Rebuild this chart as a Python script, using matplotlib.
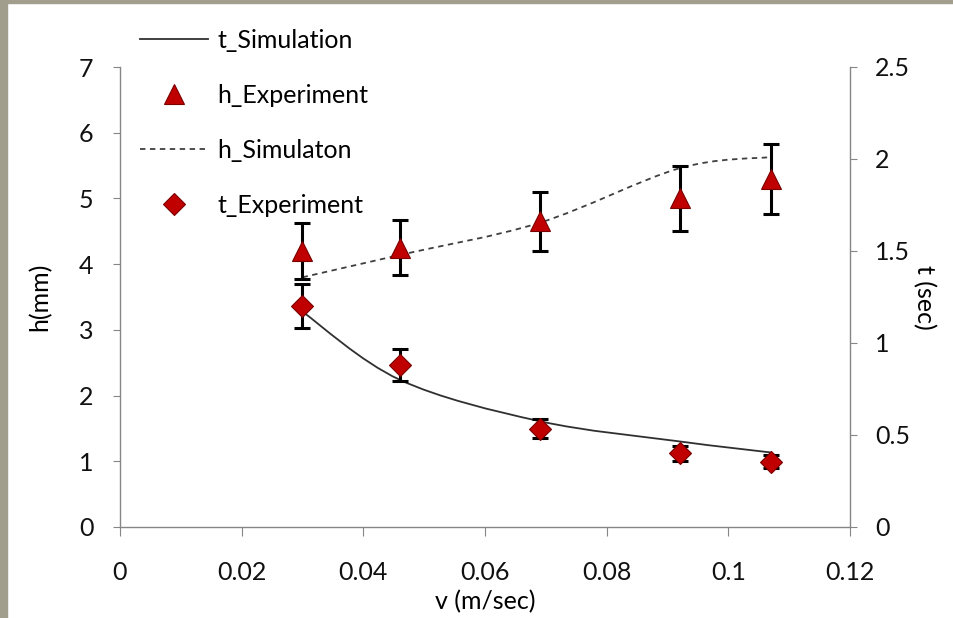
import matplotlib
matplotlib.use('Agg')
import matplotlib.pyplot as plt
from matplotlib.path import Path
from matplotlib.patches import PathPatch, Rectangle
from matplotlib.lines import Line2D
import numpy as np

plt.rcParams['font.family'] = ['Lato', 'DejaVu Sans']

# velocity (m/sec)
v = [0.030, 0.046, 0.069, 0.092, 0.107]

# film height (mm), left axis
h_exp = [4.20, 4.25, 4.65, 5.00, 5.30]
h_err = [0.42, 0.42, 0.45, 0.50, 0.53]
h_sim = [3.80, 4.14, 4.63, 5.46, 5.63]

# time (sec), right axis
t_exp = [1.20, 0.88, 0.535, 0.40, 0.355]
t_err = [0.12, 0.088, 0.053, 0.04, 0.035]
t_sim = [1.17, 0.80, 0.575, 0.465, 0.405]

AX_GRAY = '#868686'
RED = '#C00000'
RED_EDGE = '#7A0000'
FS = 18


def smooth_path(x, y):
    # bezier through every point, control points like a spreadsheet "smoothed line"
    pts = np.column_stack([x, y])
    n = len(pts)
    verts = [pts[0]]
    codes = [Path.MOVETO]
    for i in range(n - 1):
        p0 = pts[max(i - 1, 0)]
        p1 = pts[i]
        p2 = pts[i + 1]
        p3 = pts[min(i + 2, n - 1)]
        c1 = p1 + (p2 - p0) / 6.0
        c2 = p2 - (p3 - p1) / 6.0
        verts += [c1, c2, p2]
        codes += [Path.CURVE4] * 3
    return Path(verts, codes)


fig = plt.figure(figsize=(9.54, 6.18), dpi=100)
ax = fig.add_axes([120 / 954, 1 - 527 / 618, 730 / 954, 460 / 618])
ax2 = ax.twinx()

# h curves on left axis
ax.add_patch(PathPatch(smooth_path(v, h_sim), fill=False, ec='#404040',
                       lw=1.3, ls=(0, (3, 2.5)), zorder=2))
ax.errorbar(v, h_exp, yerr=h_err, fmt='none', ecolor='black', elinewidth=2.2,
            capsize=6, capthick=2.2, zorder=3)
ax.plot(v, h_exp, ls='none', marker='^', ms=15, mfc=RED, mec=RED_EDGE,
        mew=0.8, zorder=4)

# t curves on right axis
ax2.add_patch(PathPatch(smooth_path(v, t_sim), fill=False, ec='#303030',
                        lw=1.3, zorder=2))
ax2.errorbar(v, t_exp, yerr=t_err, fmt='none', ecolor='black', elinewidth=2.2,
             capsize=6, capthick=2.2, zorder=3)
ax2.plot(v, t_exp, ls='none', marker='D', ms=11.5, mfc=RED, mec=RED_EDGE,
         mew=0.8, zorder=4)

ax.set_xlim(0, 0.12)
ax.set_ylim(0, 7)
ax2.set_ylim(0, 2.5)
ax.set_xticks(np.arange(0, 0.121, 0.02))
ax.set_xticklabels(['0', '0.02', '0.04', '0.06', '0.08', '0.1', '0.12'])
ax.set_yticks(range(8))
ax2.set_yticks([0, 0.5, 1, 1.5, 2, 2.5])
ax2.set_yticklabels(['0', '0.5', '1', '1.5', '2', '2.5'])

for a in (ax, ax2):
    for s in a.spines.values():
        s.set_color(AX_GRAY)
        s.set_linewidth(1.0)
    a.spines['top'].set_visible(False)
ax.spines['right'].set_visible(False)
ax2.spines['left'].set_visible(False)
ax2.spines['bottom'].set_visible(False)

ax.tick_params(axis='x', direction='out', length=6.5, color=AX_GRAY,
               labelsize=FS, pad=18, labelcolor='#111111')
ax.tick_params(axis='y', direction='out', length=5, color=AX_GRAY,
               labelsize=FS, pad=14, labelcolor='#111111')
ax2.tick_params(axis='y', direction='out', length=5, color=AX_GRAY,
                labelsize=FS, pad=13, labelcolor='#111111')

ax.set_xlabel('v (m/sec)', fontsize=FS, labelpad=4)
ax.set_ylabel('h(mm)', fontsize=FS, labelpad=20)
ax2.set_ylabel('t (sec)', fontsize=FS, rotation=-90, labelpad=19)

handles = [
    Line2D([], [], color='#303030', lw=1.3),
    Line2D([], [], ls='none', marker='^', ms=15, mfc=RED, mec=RED_EDGE, mew=0.8),
    Line2D([], [], color='#404040', lw=1.3, ls=(0, (3, 2.5))),
    Line2D([], [], ls='none', marker='D', ms=11.5, mfc=RED, mec=RED_EDGE, mew=0.8),
]
labels = ['t_Simulation', 'h_Experiment', 'h_Simulaton', 't_Experiment']
fig.legend(handles, labels, loc='upper left', bbox_to_anchor=(140 / 954, 1 - 29 / 618),
           frameon=False, fontsize=FS, handlelength=2.72, handletextpad=0.36,
           labelspacing=1.28, borderpad=0, borderaxespad=0)

# grey window frame on the left and top edges
fig.patches.append(Rectangle((0, 0), 7 / 954, 1, transform=fig.transFigure,
                             color='#A19E8E', zorder=10))
fig.patches.append(Rectangle((0, 1 - 3 / 618), 1, 3 / 618, transform=fig.transFigure,
                             color='#A19E8E', zorder=10))

fig.savefig('out.png', dpi=100)
